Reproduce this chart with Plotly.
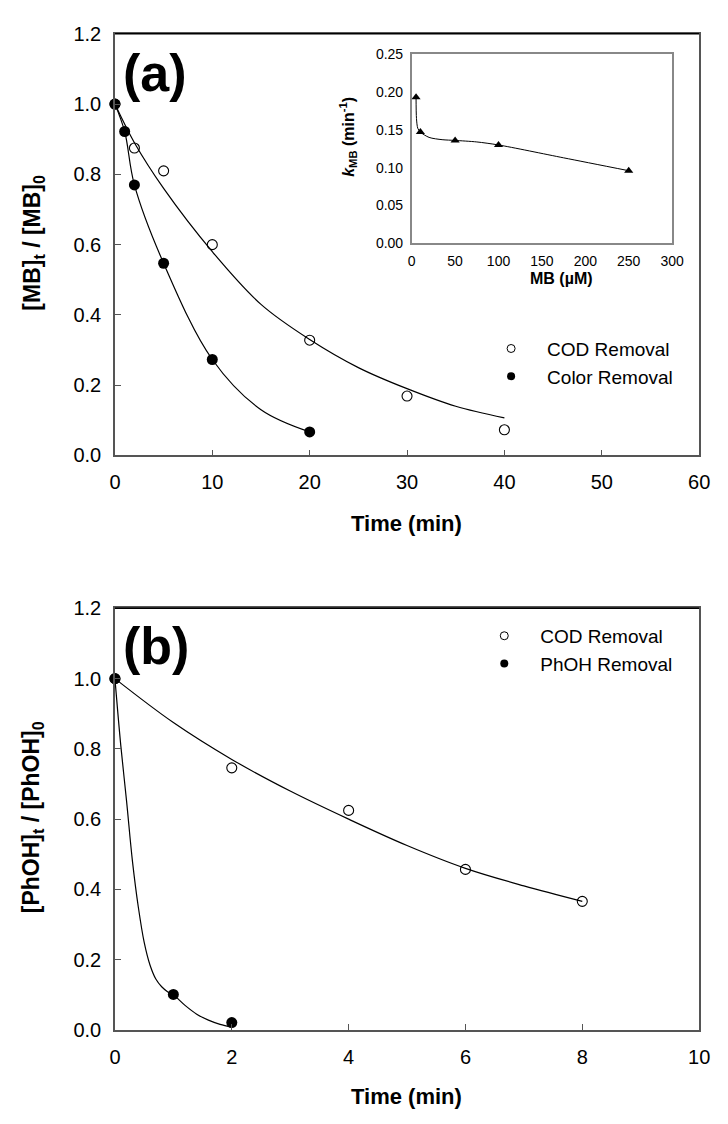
import plotly.graph_objects as go

W, H = 728, 1124

# ---------------- data ----------------
# Panel (a): MB degradation
t_a_cod = [0, 2, 5, 10, 20, 30, 40]
y_a_cod = [1.0, 0.875, 0.81, 0.60, 0.328, 0.169, 0.073]
t_a_color = [0, 1, 2, 5, 10, 20]
y_a_color = [1.0, 0.922, 0.77, 0.547, 0.273, 0.067]
# fitted curves as drawn
fit_a_cod_t = [0, 2, 5, 10, 15, 20, 25, 30, 35, 40]
fit_a_cod_y = [1.0, 0.89, 0.76, 0.58, 0.43, 0.33, 0.25, 0.19, 0.14, 0.107]
fit_a_color_t = [0, 1, 2, 5, 10, 15, 20]
fit_a_color_y = [1.0, 0.922, 0.77, 0.547, 0.273, 0.13, 0.067]

# Inset: k_MB vs MB concentration
mb_conc = [5, 10, 50, 100, 250]
k_mb = [0.193, 0.147, 0.136, 0.130, 0.096]
fit_mb_conc = [5, 5.5, 7, 10, 20, 35, 50, 75, 100, 175, 250]
fit_k_mb = [0.193, 0.165, 0.152, 0.147, 0.140, 0.137, 0.136, 0.134, 0.130, 0.113, 0.096]

# Panel (b): PhOH degradation
t_b_cod = [0, 2, 4, 6, 8]
y_b_cod = [1.0, 0.746, 0.625, 0.457, 0.366]
t_b_phoh = [0, 1, 2]
y_b_phoh = [1.0, 0.101, 0.021]
fit_b_cod_t = [0, 1, 2, 3, 4, 5, 6, 7, 8]
fit_b_cod_y = [1.0, 0.875, 0.77, 0.68, 0.60, 0.525, 0.46, 0.41, 0.366]
fit_b_phoh_t = [0, 0.1, 0.2, 0.3, 0.4, 0.5, 0.6, 0.7, 0.8, 0.9, 1.0, 1.2, 1.4, 1.6, 1.8, 2.0]
fit_b_phoh_y = [1.0, 0.81, 0.65, 0.48, 0.35, 0.25, 0.185, 0.145, 0.123, 0.109, 0.100,
                0.07, 0.045, 0.028, 0.016, 0.008]

tick_a_x = [0, 10, 20, 30, 40, 50, 60]
tick_b_x = [0, 2, 4, 6, 8, 10]
tick_y = [0.0, 0.2, 0.4, 0.6, 0.8, 1.0, 1.2]
tick_in_x = [0, 50, 100, 150, 200, 250, 300]
tick_in_y = [0.00, 0.05, 0.10, 0.15, 0.20, 0.25]

FONT = "Liberation Sans, Arial, sans-serif"


def px(x):
    return x / W


def py(y):
    return 1 - y / H


fig = go.Figure()

line_style = dict(color="black", width=1.2, shape="spline", smoothing=1.0)

# ---- panel (a) ----
fig.add_trace(go.Scatter(x=fit_a_cod_t, y=fit_a_cod_y, mode="lines", line=line_style,
                         xaxis="x", yaxis="y", showlegend=False, hoverinfo="skip"))
fig.add_trace(go.Scatter(x=fit_a_color_t, y=fit_a_color_y, mode="lines", line=line_style,
                         xaxis="x", yaxis="y", showlegend=False, hoverinfo="skip"))
fig.add_trace(go.Scatter(x=t_a_cod, y=y_a_cod, mode="markers", xaxis="x", yaxis="y",
                         marker=dict(symbol="circle-open", size=10, color="black",
                                     line=dict(width=1.1, color="black")),
                         cliponaxis=False, showlegend=False))
fig.add_trace(go.Scatter(x=t_a_color, y=y_a_color, mode="markers", xaxis="x", yaxis="y",
                         marker=dict(symbol="circle", size=11, color="black"),
                         cliponaxis=False, showlegend=False))
# legend keys (a)
fig.add_trace(go.Scatter(x=[None], y=[None], mode="markers", name="COD Removal",
                         marker=dict(symbol="circle-open", size=8, color="black",
                                     line=dict(width=1, color="black")),
                         xaxis="x", yaxis="y", legend="legend"))
fig.add_trace(go.Scatter(x=[None], y=[None], mode="markers", name="Color Removal",
                         marker=dict(symbol="circle", size=8, color="black"),
                         xaxis="x", yaxis="y", legend="legend"))

# ---- inset ----
fig.add_trace(go.Scatter(x=fit_mb_conc, y=fit_k_mb, mode="lines",
                         line=dict(color="black", width=1, shape="spline", smoothing=0.8),
                         xaxis="x3", yaxis="y3", showlegend=False, hoverinfo="skip"))
fig.add_trace(go.Scatter(x=mb_conc, y=k_mb, mode="markers", xaxis="x3", yaxis="y3",
                         marker=dict(symbol="triangle-up", size=8, color="black"),
                         cliponaxis=False, showlegend=False))

# ---- panel (b) ----
fig.add_trace(go.Scatter(x=fit_b_cod_t, y=fit_b_cod_y, mode="lines", line=line_style,
                         xaxis="x2", yaxis="y2", showlegend=False, hoverinfo="skip"))
fig.add_trace(go.Scatter(x=fit_b_phoh_t, y=fit_b_phoh_y, mode="lines", line=line_style,
                         xaxis="x2", yaxis="y2", showlegend=False, hoverinfo="skip"))
fig.add_trace(go.Scatter(x=t_b_cod, y=y_b_cod, mode="markers", xaxis="x2", yaxis="y2",
                         marker=dict(symbol="circle-open", size=10, color="black",
                                     line=dict(width=1.1, color="black")),
                         cliponaxis=False, showlegend=False))
fig.add_trace(go.Scatter(x=t_b_phoh, y=y_b_phoh, mode="markers", xaxis="x2", yaxis="y2",
                         marker=dict(symbol="circle", size=11, color="black"),
                         cliponaxis=False, showlegend=False))
fig.add_trace(go.Scatter(x=[None], y=[None], mode="markers", name="COD Removal",
                         marker=dict(symbol="circle-open", size=8, color="black",
                                     line=dict(width=1, color="black")),
                         xaxis="x2", yaxis="y2", legend="legend2"))
fig.add_trace(go.Scatter(x=[None], y=[None], mode="markers", name="PhOH Removal",
                         marker=dict(symbol="circle", size=8, color="black"),
                         xaxis="x2", yaxis="y2", legend="legend2"))

AX = "#555555"
main_x_dom = [px(111.7), px(710.7)]
tickfont = dict(family=FONT, size=20, color="black")


def main_x(rng, vals, anchor):
    return dict(domain=main_x_dom, range=rng, tickvals=vals, ticktext=[str(v) for v in vals],
                showline=True, linecolor=AX, linewidth=1.5, mirror=True,
                ticks="inside", ticklen=6, tickcolor=AX, tickwidth=1,
                showgrid=False, zeroline=False, tickfont=tickfont, anchor=anchor,
                ticklabelstandoff=8)


def main_y(dom, anchor):
    return dict(domain=dom, range=[0, 1.2], tickvals=tick_y,
                ticktext=["%.1f" % v for v in tick_y],
                showline=True, linecolor=AX, linewidth=1.5, mirror=True,
                ticks="inside", ticklen=6, tickcolor=AX, tickwidth=1,
                showgrid=False, zeroline=False, tickfont=tickfont, anchor=anchor,
                ticklabelstandoff=8)


legend_font = dict(family=FONT, size=19, color="black")

fig.update_layout(
    width=W, height=H,
    margin=dict(l=0, r=0, t=0, b=0),
    paper_bgcolor="white", plot_bgcolor="white",
    font=dict(family=FONT, color="black"),
    xaxis=main_x([0, 60], tick_a_x, "y"),
    yaxis=main_y([py(453.3), py(23.3)], "x"),
    xaxis2=main_x([0, 10], tick_b_x, "y2"),
    yaxis2=main_y([py(1039.3), py(609.3)], "x2"),
    xaxis3=dict(domain=[px(416), px(683)], range=[0, 300], tickvals=tick_in_x,
                ticktext=[str(v) for v in tick_in_x],
                showline=True, linecolor="#888888", linewidth=1.5, mirror=True,
                ticks="", showgrid=False, zeroline=False, anchor="y3",
                tickfont=dict(family=FONT, size=14, color="black"), ticklabelstandoff=4),
    yaxis3=dict(domain=[py(237), py(44)], range=[0, 0.25], tickvals=tick_in_y,
                ticktext=["%.2f" % v for v in tick_in_y],
                showline=True, linecolor="#888888", linewidth=1.5, mirror=True,
                ticks="", showgrid=False, zeroline=False, anchor="x3",
                tickfont=dict(family=FONT, size=14, color="black"), ticklabelstandoff=4),
    legend=dict(x=px(481), y=py(325), xanchor="left", yanchor="top",
                bgcolor="rgba(0,0,0,0)", font=legend_font, itemwidth=62,
                tracegroupgap=0, borderwidth=0),
    legend2=dict(x=px(474), y=py(618), xanchor="left", yanchor="top",
                 bgcolor="rgba(0,0,0,0)", font=legend_font, itemwidth=62,
                 tracegroupgap=0, borderwidth=0),
    showlegend=True,
)

# darker top frame lines, as in the reference
fig.add_shape(type="line", xref="paper", yref="paper", x0=px(111.7), x1=px(710.7),
              y0=py(23.3), y1=py(23.3), line=dict(color="black", width=1.5))
fig.add_shape(type="line", xref="paper", yref="paper", x0=px(111.7), x1=px(710.7),
              y0=py(609.3), y1=py(609.3), line=dict(color="black", width=1.5))

ann = []
bold = lambda s: dict(family=FONT, size=s, color="black")
ann.append(dict(x=px(118), y=py(63), xref="paper", yref="paper", text="<b>(a)</b>",
                showarrow=False, xanchor="left", yanchor="middle", font=bold(52)))
ann.append(dict(x=px(118), y=py(648), xref="paper", yref="paper", text="<b>(b)</b>",
                showarrow=False, xanchor="left", yanchor="middle", font=bold(52)))
ann.append(dict(x=px(411), y=py(523), xref="paper", yref="paper", text="<b>Time (min)</b>",
                showarrow=False, xanchor="center", yanchor="middle", font=bold(22)))
ann.append(dict(x=px(411), y=py(1107), xref="paper", yref="paper", text="<b>Time (min)</b>",
                showarrow=False, xanchor="center", yanchor="middle", font=bold(22)))
ann.append(dict(x=px(28), y=py(236), xref="paper", yref="paper",
                text="<b>[MB]<sub>t</sub> / [MB]<sub>0</sub></b>", textangle=-90,
                showarrow=False, xanchor="center", yanchor="middle", font=bold(23)))
ann.append(dict(x=px(28), y=py(822), xref="paper", yref="paper",
                text="<b>[PhOH]<sub>t</sub> / [PhOH]<sub>0</sub></b>", textangle=-90,
                showarrow=False, xanchor="center", yanchor="middle", font=bold(23)))
ann.append(dict(x=px(351), y=py(128), xref="paper", yref="paper",
                text="<b><i>k</i><sub>MB</sub> (min<sup>-1</sup>)</b>", textangle=-90,
                showarrow=False, xanchor="center", yanchor="middle", font=bold(16)))
ann.append(dict(x=px(570), y=py(273), xref="paper", yref="paper",
                text="<b>MB (µM)</b>",
                showarrow=False, xanchor="center", yanchor="middle", font=bold(16)))
fig.update_layout(annotations=ann)

fig.write_html("out.html")
